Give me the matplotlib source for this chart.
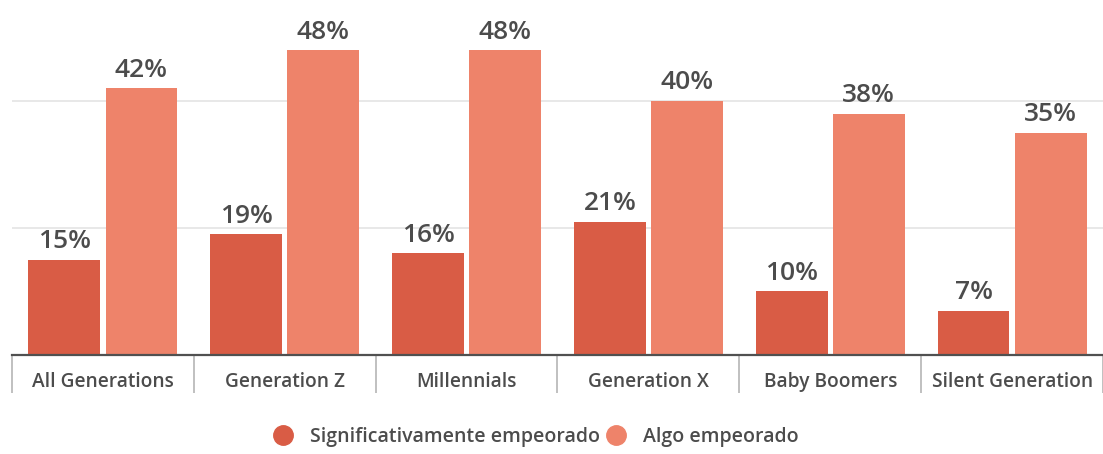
import matplotlib.pyplot as plt
from matplotlib.lines import Line2D
import numpy as np

generations = ["All Generations", "Generation Z", "Millennials",
               "Generation X", "Baby Boomers", "Silent Generation"]
significantly_worse = [15, 19, 16, 21, 10, 7]
somewhat_worse = [42, 48, 48, 40, 38, 35]
series_names = ["Significativamente empeorado", "Algo empeorado"]

DARK = "#D95C45"
LIGHT = "#EE836A"
TEXT = "#4c4c4c"

plt.rcParams['font.family'] = ['Open Sans', 'DejaVu Sans']

fig = plt.figure(figsize=(11.03, 4.54), dpi=100)
ax = fig.add_axes([12 / 1103, 99 / 454, 1 - 12 / 1103, 355 / 454])

x = np.arange(len(generations))
width = 0.395
offset = 0.212

b1 = ax.bar(x - offset, significantly_worse, width, color=DARK, zorder=2)
b2 = ax.bar(x + offset, somewhat_worse, width, color=LIGHT, zorder=2)

for bars, vals in ((b1, significantly_worse), (b2, somewhat_worse)):
    for rect, v in zip(bars, vals):
        ax.annotate(f"{v}%", (rect.get_x() + rect.get_width() / 2, v),
                    xytext=(0, 4), textcoords="offset points",
                    ha="center", va="bottom", fontsize=19,
                    color=TEXT, fontweight="semibold")

ax.set_xlim(-0.5, 5.475)
ax.set_ylim(0, 55.9)

# light horizontal guides
for yv in (20, 40):
    ax.axhline(yv, color="#e4e4e4", lw=1.2, zorder=1)

for side in ("top", "right", "left"):
    ax.spines[side].set_visible(False)
ax.spines["bottom"].set_color("#505050")
ax.spines["bottom"].set_linewidth(1.6)
ax.spines["bottom"].set_zorder(3)

ax.set_yticks([])
ax.set_xticks(x)
ax.set_xticklabels(generations, fontsize=13.8, color=TEXT, fontweight="semibold")
ax.tick_params(axis="x", which="major", length=0, pad=12)
ax.set_xticks(np.arange(-0.5, len(generations), 1.0), minor=True)
ax.tick_params(axis="x", which="minor", length=27.5, width=1.2, color="#b5b5b5")

handles = [Line2D([], [], marker="o", linestyle="", markersize=14,
                  markerfacecolor=c, markeredgecolor=c) for c in (DARK, LIGHT)]
fig.legend(handles, series_names, loc="center", bbox_to_anchor=(0.486, 17 / 454),
           ncol=2, frameon=False, handlelength=1.0, handletextpad=0.9,
           columnspacing=0.3, prop={"size": 14, "weight": "semibold"},
           labelcolor=TEXT)

fig.savefig("out.png", dpi=100)
